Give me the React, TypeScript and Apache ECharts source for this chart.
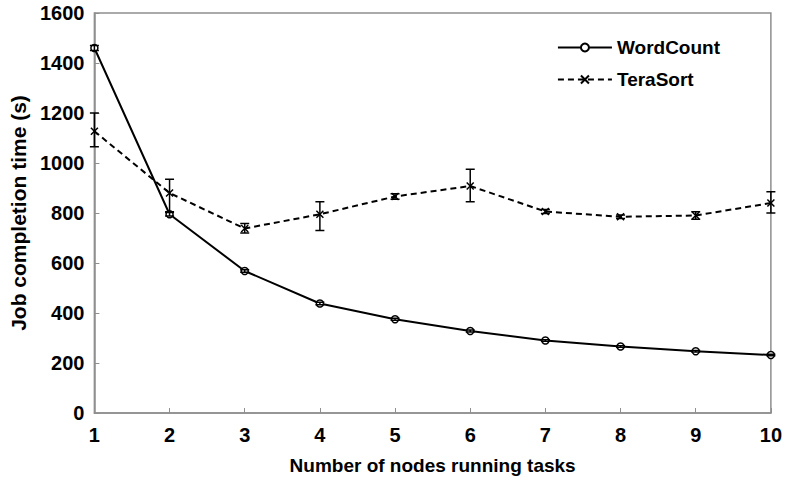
import React, { useEffect, useRef } from "react";
import * as echarts from "echarts";

const nodes = [1, 2, 3, 4, 5, 6, 7, 8, 9, 10];
const wordCount = [1460, 795, 568, 438, 375, 328, 290, 266, 247, 232];
const wordLow = [1450, 788, 563, 433, 371, 324, 287, 263, 244, 229];
const wordHigh = [1470, 802, 573, 443, 379, 332, 293, 269, 250, 235];
const teraSort = [1127, 880, 738, 795, 866, 908, 806, 785, 790, 840];
const teraLow = [1065, 805, 720, 730, 855, 845, 798, 778, 775, 800];
const teraHigh = [1200, 935, 758, 845, 877, 975, 814, 792, 805, 885];
const yTicks = [0, 200, 400, 600, 800, 1000, 1200, 1400, 1600];

const FONT = "Liberation Sans";

function errorSeries(name: string, low: number[], high: number[]) {
  return {
    type: "custom",
    name: name + "-err",
    silent: true,
    z: 5,
    data: nodes.map((x, i) => [x, low[i], high[i]]),
    renderItem: (params: any, api: any) => {
      const x = api.value(0);
      const lo = api.coord([x, api.value(1)]);
      const hi = api.coord([x, api.value(2)]);
      const cw = 4.5;
      const style = { stroke: "#000", lineWidth: 1.5 };
      return {
        type: "group",
        children: [
          { type: "line", shape: { x1: lo[0], y1: lo[1], x2: hi[0], y2: hi[1] }, style },
          { type: "line", shape: { x1: lo[0] - cw, y1: lo[1], x2: lo[0] + cw, y2: lo[1] }, style },
          { type: "line", shape: { x1: hi[0] - cw, y1: hi[1], x2: hi[0] + cw, y2: hi[1] }, style },
        ],
      };
    },
  };
}

export default function App() {
  const ref = useRef<HTMLDivElement>(null);
  useEffect(() => {
    const chart = echarts.init(ref.current!, null, { renderer: "svg" });
    chart.setOption({
      animation: false,
      backgroundColor: "#fff",
      textStyle: { fontFamily: FONT },
      grid: {
        left: 93,
        right: 8,
        top: 13,
        bottom: 66,
        show: true,
        borderColor: "#8f8f8f",
        borderWidth: 1.5,
      },
      legend: {
        right: 60,
        top: 33,
        orient: "vertical",
        itemWidth: 54,
        itemHeight: 10,
        itemGap: 13,
        data: ["WordCount", "TeraSort"],
        textStyle: { fontFamily: FONT, fontWeight: "bold", fontSize: 19, color: "#000" },
      },
      xAxis: {
        type: "value",
        min: 1,
        max: 10,
        interval: 1,
        name: "Number of nodes running tasks",
        nameLocation: "middle",
        nameGap: 43,
        nameTextStyle: { fontFamily: FONT, fontWeight: "bold", fontSize: 19, color: "#000" },
        axisLine: { lineStyle: { color: "#8f8f8f", width: 1.5 } },
        axisTick: { inside: true, length: 5, lineStyle: { color: "#8f8f8f" } },
        axisLabel: { fontFamily: FONT, fontWeight: "bold", fontSize: 20, color: "#000", margin: 12 },
        splitLine: { show: false },
      },
      yAxis: {
        type: "value",
        min: yTicks[0],
        max: yTicks[yTicks.length - 1],
        interval: 200,
        name: "Job completion time (s)",
        nameLocation: "middle",
        nameGap: 61,
        nameTextStyle: { fontFamily: FONT, fontWeight: "bold", fontSize: 21, color: "#000" },
        axisLine: { show: true, lineStyle: { color: "#8f8f8f", width: 1.5 } },
        axisTick: { show: true, inside: true, length: 5, lineStyle: { color: "#8f8f8f" } },
        axisLabel: {
          fontFamily: FONT,
          fontWeight: "bold",
          fontSize: 20,
          color: "#000",
          margin: 10,
          formatter: (v: number) => String(v),
        },
        splitLine: { show: false },
      },
      series: [
        {
          type: "line",
          name: "WordCount",
          data: nodes.map((x, i) => [x, wordCount[i]]),
          symbol: "circle",
          symbolSize: 7,
          showSymbol: true,
          color: "#000",
          itemStyle: { color: "#fff", borderColor: "#000", borderWidth: 1.5 },
          lineStyle: { color: "#000", width: 2 },
          z: 3,
        },
        {
          type: "line",
          name: "TeraSort",
          data: nodes.map((x, i) => [x, teraSort[i]]),
          symbol: "path://M0,0L10,10M10,0L0,10",
          symbolSize: 7,
          color: "#000",
          itemStyle: { color: "none", borderColor: "#000", borderWidth: 1.5 },
          lineStyle: { color: "#000", width: 2, type: [6, 4] },
          z: 3,
        },
        errorSeries("WordCount", wordLow, wordHigh),
        errorSeries("TeraSort", teraLow, teraHigh),
      ],
    });
    return () => chart.dispose();
  }, []);
  return (
    <div
      ref={ref}
      style={{ position: "fixed", left: 0, top: 0, width: 785, height: 480, background: "#fff" }}
    />
  );
}
